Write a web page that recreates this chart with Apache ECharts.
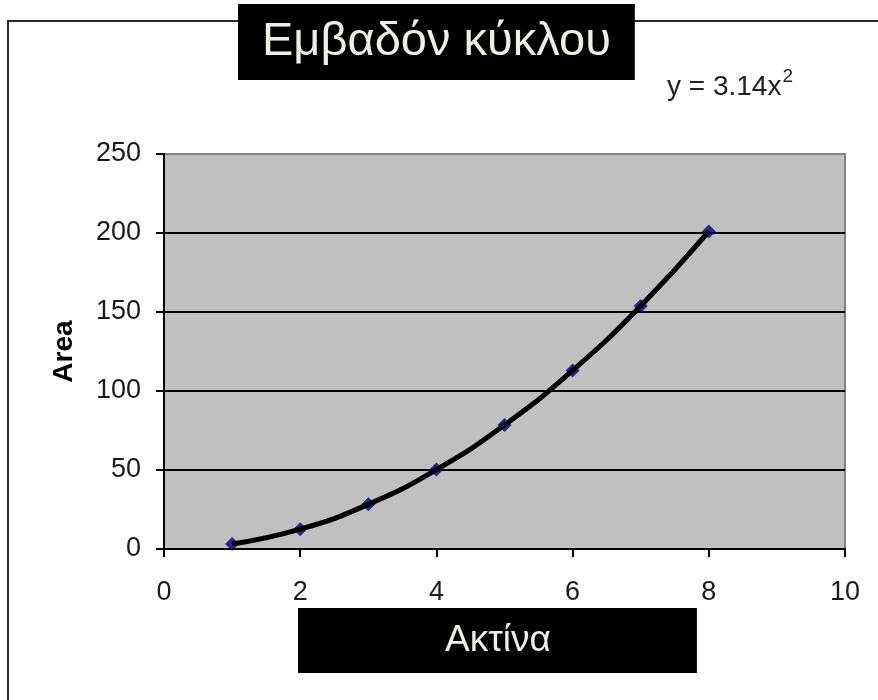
<!DOCTYPE html>
<html>
<head>
<meta charset="utf-8">
<script src="https://cdn.jsdelivr.net/npm/echarts@6/dist/echarts.min.js"></script>
<style>
  html, body { margin: 0; padding: 0; background: #ffffff; }
  #chart { width: 878px; height: 700px; }
</style>
</head>
<body>
<div id="chart"></div>
<script>
// Radius values (x) and the matching circle areas (y)
const radius = [1, 2, 3, 4, 5, 6, 7, 8];
const area = [3.14, 12.56, 28.26, 50.24, 78.5, 113.04, 153.86, 200.96];

// Axis tick settings
const xTicks = { min: 0, max: 10, step: 2 };
const yTicks = { min: 0, max: 250, step: 50 };

// Text shown on the chart
const titleText = 'Εμβαδόν κύκλου';
const xAxisTitle = 'Ακτίνα';
const yAxisTitle = 'Area';
const equationBase = 'y = 3.14x';
const equationPower = '2';

const points = radius.map((r, i) => [r, area[i]]);

const FONT = '"Liberation Sans", Arial, sans-serif';
const chart = echarts.init(document.getElementById('chart'));

chart.setOption({
  animation: false,
  backgroundColor: '#ffffff',
  title: [
    {
      text: titleText,
      left: 238,
      top: 4,
      padding: [10, 24, 10, 24],
      backgroundColor: '#000000',
      textStyle: {
        color: '#f0eee4',
        fontFamily: FONT,
        fontSize: 47,
        fontWeight: 'normal',
        lineHeight: 56
      },
      z: 10
    },
    {
      text: xAxisTitle,
      left: 298,
      top: 608,
      padding: [10, 146, 10, 147],
      backgroundColor: '#000000',
      textStyle: {
        color: '#f0eee4',
        fontFamily: FONT,
        fontSize: 37,
        fontWeight: 'normal',
        lineHeight: 45
      },
      z: 10
    }
  ],
  graphic: [
    {
      type: 'rect',
      z: -10,
      silent: true,
      shape: { x: 8, y: 21, width: 900, height: 720 },
      style: { fill: 'none', stroke: '#2a2a2a', lineWidth: 2 }
    },
    {
      type: 'text',
      left: 667,
      top: 67,
      z: 5,
      style: {
        text: '{b|' + equationBase + '}{s|' + equationPower + '}',
        rich: {
          b: { fontFamily: FONT, fontSize: 28, fill: '#222222', verticalAlign: 'bottom', lineHeight: 34 },
          s: { fontFamily: FONT, fontSize: 19, fill: '#222222', verticalAlign: 'top', lineHeight: 34, padding: [0, 0, 13, 1] }
        }
      }
    }
  ],
  grid: {
    left: 164,
    top: 154,
    right: 33,
    bottom: 151,
    show: true,
    backgroundColor: '#c0c0c0',
    borderColor: '#808080',
    borderWidth: 2
  },
  xAxis: {
    type: 'value',
    min: xTicks.min,
    max: xTicks.max,
    interval: xTicks.step,
    axisLine: { show: true, onZero: false, lineStyle: { color: '#000000', width: 2 } },
    axisTick: { show: true, inside: false, length: 8, lineStyle: { color: '#000000', width: 2 } },
    axisLabel: { margin: 30, color: '#1a1a1a', fontFamily: FONT, fontSize: 27 },
    splitLine: { show: false }
  },
  yAxis: {
    type: 'value',
    min: yTicks.min,
    max: yTicks.max,
    interval: yTicks.step,
    name: yAxisTitle,
    nameLocation: 'middle',
    nameRotate: 90,
    nameGap: 86,
    nameTextStyle: { color: '#000000', fontFamily: FONT, fontSize: 28, fontWeight: 'bold' },
    axisLine: { show: true, lineStyle: { color: '#000000', width: 2 } },
    axisTick: { show: true, inside: false, length: 8, lineStyle: { color: '#000000', width: 2 } },
    axisLabel: { margin: 23, color: '#1a1a1a', fontFamily: FONT, fontSize: 27 },
    splitLine: {
      show: true,
      lineStyle: { color: ['#000000', '#000000', '#000000', '#000000', '#000000', '#808080'], width: 2 }
    }
  },
  series: [
    {
      type: 'scatter',
      data: points,
      symbol: 'diamond',
      symbolSize: 14,
      itemStyle: { color: '#000080' },
      z: 2
    },
    {
      type: 'line',
      data: points,
      smooth: true,
      showSymbol: false,
      symbol: 'none',
      lineStyle: { color: '#000000', width: 5 },
      z: 3
    }
  ]
});
</script>
</body>
</html>
